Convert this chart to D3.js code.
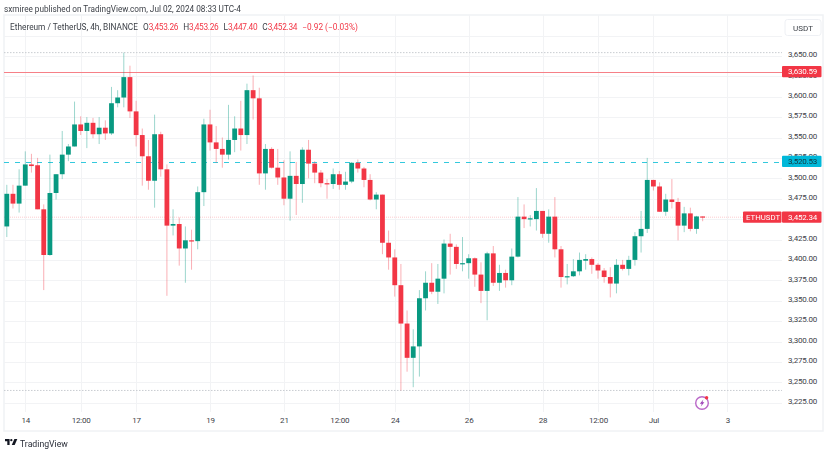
<!DOCTYPE html>
<html>
<head>
<meta charset="utf-8">
<script src="https://cdn.jsdelivr.net/npm/d3@7"></script>
<style>
html, body { margin: 0; padding: 0; background: #fff; }
svg { display: block; filter: blur(0.3px); }
text { font-family: Roboto, sans-serif; }
</style>
</head>
<body>
<div id="chart"></div>
<script>
var opens = [3441,3481,3469,3491,3517,3516,3462,3406,3482,3505,3529,3539,3566,3558,3568,3554,3562,3555,3592,3599,3624,3582,3553,3527,3497,3554,3511,3442,3444,3414,3424,3423,3483,3566,3544,3536,3529,3547,3561,3553,3608,3598,3506,3536,3513,3501,3475,3503,3493,3535,3518,3507,3494,3493,3505,3492,3496,3519,3512,3498,3474,3480,3421,3403,3369,3322,3280,3294,3353,3372,3361,3377,3420,3416,3395,3396,3402,3382,3362,3408,3372,3384,3375,3404,3453,3450,3450,3460,3432,3453,3413,3379,3380,3386,3399,3401,3394,3387,3379,3371,3394,3389,3400,3429,3438,3498,3490,3459,3474,3471,3442,3457,3438,3453.26];
var highs = [3492,3492,3511,3533,3530,3525,3468,3529,3505,3558,3542,3594,3576,3575,3574,3575,3571,3612,3608,3654,3638,3595,3561,3547,3578,3557,3517,3462,3452,3441,3437,3490,3573,3584,3564,3550,3590,3576,3595,3616,3626,3611,3542,3538,3536,3522,3533,3520,3538,3547,3521,3510,3499,3512,3509,3508,3520,3523,3514,3505,3483,3480,3436,3413,3395,3338,3315,3363,3386,3396,3395,3425,3432,3419,3428,3407,3403,3397,3410,3417,3394,3388,3414,3477,3468,3455,3488,3460,3462,3477,3417,3395,3401,3409,3407,3403,3396,3390,3391,3401,3400,3405,3434,3460,3525,3498,3495,3481,3499,3476,3465,3464,3454,3453.26];
var lows = [3428,3463,3458,3491,3507,3462,3363,3405,3474,3499,3521,3539,3553,3537,3549,3542,3547,3553,3587,3587,3574,3539,3491,3486,3464,3502,3356,3430,3393,3372,3388,3413,3466,3534,3519,3513,3523,3532,3534,3542,3572,3492,3486,3512,3492,3467,3448,3455,3470,3500,3494,3489,3475,3487,3486,3486,3494,3507,3489,3473,3462,3407,3388,3355,3240,3263,3244,3257,3338,3358,3346,3359,3382,3389,3386,3377,3367,3347,3326,3368,3362,3366,3369,3403,3439,3441,3436,3427,3421,3403,3366,3370,3379,3381,3388,3383,3377,3372,3354,3359,3387,3381,3393,3409,3433,3485,3459,3454,3463,3424,3434,3435,3432,3447.4];
var closes = [3481,3469,3491,3517,3515,3462,3406,3482,3505,3529,3539,3566,3558,3568,3554,3562,3555,3592,3599,3624,3582,3553,3527,3497,3554,3511,3442,3444,3414,3424,3423,3483,3566,3544,3536,3529,3547,3561,3553,3608,3598,3506,3536,3513,3501,3475,3503,3493,3535,3518,3507,3494,3493,3505,3492,3496,3519,3512,3498,3474,3480,3421,3403,3369,3322,3280,3294,3353,3372,3361,3377,3420,3416,3395,3396,3402,3382,3362,3408,3372,3384,3375,3404,3453,3450,3451,3460,3432,3453,3413,3379,3380,3386,3400,3401,3394,3387,3379,3371,3394,3389,3400,3429,3438,3498,3490,3459,3474,3471,3442,3457,3438,3453.26,3452.34];

var gridPrices = [3675,3650,3625,3600,3575,3550,3525,3500,3475,3450,3425,3400,3375,3350,3325,3300,3275,3250,3225];
var priceTicks = [3650,3625,3600,3575,3550,3525,3500,3475,3425,3400,3375,3350,3325,3300,3275,3250,3225];
var timeIndex = [3,12,21,33,45,54,63,75,87,96,105,117];
var timeLabels = ["14","12:00","17","19","21","12:00","24","26","28","12:00","Jul","3"];

var resistance = 3630.59;
var support = 3520.53;
var lastPrice = 3452.34;

var width = 830;
var height = 450;
var frameLeft = 4;
var frameTop = 15;
var frameRight = 823;
var frameBottom = 431;
var plotRight = 782;
var plotBottom = 412;

var green = "#089981";
var red = "#f23645";
var cyan = "#00bcd4";
var textColor = "#3d4148";
var fontSize = 8;
var tightSpacing = "-0.2px";

var svg = d3.select("#chart")
    .append("svg")
    .attr("width", width)
    .attr("height", height);

// the candle at index i, one candle every 4 hours
var x = d3.scaleLinear()
    .domain([0, 117])
    .range([6.8, 727.3]);

var y = d3.scaleLinear()
    .domain([3650, 3225])
    .range([55.9, 402.7]);

var price = d3.format(",.2f");

svg.append("rect")
    .attr("x", frameLeft)
    .attr("y", frameTop)
    .attr("width", frameRight - frameLeft)
    .attr("height", frameBottom - frameTop)
    .attr("fill", "#fff")
    .attr("stroke", "#f0f2f5")
    .attr("stroke-width", 1.5);

// grid lines
svg.append("g")
    .selectAll("line")
    .data(gridPrices)
    .enter()
    .append("line")
      .attr("x1", frameLeft)
      .attr("x2", plotRight)
      .attr("y1", function(d){ return Math.round(y(d)) + 0.5; })
      .attr("y2", function(d){ return Math.round(y(d)) + 0.5; })
      .attr("stroke", "#f2f3f5");

svg.append("g")
    .selectAll("line")
    .data(timeIndex)
    .enter()
    .append("line")
      .attr("x1", function(d){ return Math.round(x(d)) + 0.5; })
      .attr("x2", function(d){ return Math.round(x(d)) + 0.5; })
      .attr("y1", frameTop)
      .attr("y2", plotBottom)
      .attr("stroke", "#f2f3f5");

// highest and lowest of the range
svg.append("g")
    .selectAll("line")
    .data([d3.max(highs), d3.min(lows)])
    .enter()
    .append("line")
      .attr("x1", frameLeft)
      .attr("x2", plotRight)
      .attr("y1", function(d){ return y(d); })
      .attr("y2", function(d){ return y(d); })
      .attr("stroke", "#c9ccd1")
      .attr("stroke-dasharray", "1.5,1.5");

// level lines
svg.append("line")
    .attr("x1", frameLeft).attr("x2", plotRight)
    .attr("y1", Math.round(y(resistance)) + 0.5).attr("y2", Math.round(y(resistance)) + 0.5)
    .attr("stroke", "#f68087")
    .attr("stroke-width", 1);

svg.append("line")
    .attr("x1", frameLeft).attr("x2", plotRight)
    .attr("y1", Math.round(y(support)) + 0.5).attr("y2", Math.round(y(support)) + 0.5)
    .attr("stroke", cyan)
    .attr("stroke-opacity", 0.8)
    .attr("stroke-width", 1.2)
    .attr("stroke-dasharray", "5,6");

svg.append("line")
    .attr("x1", frameLeft).attr("x2", plotRight)
    .attr("y1", y(lastPrice)).attr("y2", y(lastPrice))
    .attr("stroke", red)
    .attr("stroke-opacity", 0.25)
    .attr("stroke-dasharray", "1,1");

// candles
var candle = svg.append("g")
    .selectAll("g")
    .data(opens)
    .enter()
    .append("g");

function colorOf(d, i) {
  return closes[i] >= opens[i] ? green : red;
}

candle.append("line")
    .attr("x1", function(d, i){ return x(i); })
    .attr("x2", function(d, i){ return x(i); })
    .attr("y1", function(d, i){ return y(highs[i]); })
    .attr("y2", function(d, i){ return y(lows[i]); })
    .attr("stroke", colorOf)
    .attr("stroke-opacity", 0.4);

candle.append("rect")
    .attr("x", function(d, i){ return x(i) - 2.4; })
    .attr("width", 4.8)
    .attr("y", function(d, i){ return y(Math.max(opens[i], closes[i])); })
    .attr("height", function(d, i){ return Math.max(1.2, Math.abs(y(opens[i]) - y(closes[i]))); })
    .attr("fill", colorOf);

// price axis
var yAxis = d3.axisRight(y)
    .tickValues(priceTicks)
    .tickSize(0)
    .tickPadding(6)
    .tickFormat(price);

var yG = svg.append("g")
    .attr("transform", "translate(" + plotRight + ",-1.7)")
    .call(yAxis);
yG.select(".domain").remove();
yG.selectAll("text")
    .attr("font-size", fontSize)
    .attr("font-family", "Roboto, sans-serif")
    .attr("fill", textColor)
    .style("letter-spacing", tightSpacing);

// time axis
var xAxis = d3.axisBottom(x)
    .tickValues(timeIndex)
    .tickSize(0)
    .tickPadding(5)
    .tickFormat(function(d, i){ return timeLabels[i]; });

var xG = svg.append("g")
    .attr("transform", "translate(0," + (plotBottom + 0.5) + ")")
    .call(xAxis);
xG.select(".domain").remove();
xG.selectAll("text")
    .attr("font-size", fontSize)
    .attr("font-family", "Roboto, sans-serif")
    .attr("fill", textColor)
    .style("letter-spacing", tightSpacing);

// price labels
function priceLabel(value, color, textFill) {
  var cy = y(value);
  svg.append("rect")
      .attr("x", plotRight)
      .attr("y", cy - 5.7)
      .attr("width", 39.5)
      .attr("height", 11.2)
      .attr("rx", 1)
      .attr("fill", color);
  svg.append("text")
      .attr("x", 788)
      .attr("y", cy + 2.7)
      .attr("font-size", fontSize)
      .attr("fill", textFill)
      .style("letter-spacing", tightSpacing)
      .text(price(value));
}

priceLabel(resistance, red, "#fff");
priceLabel(support, "#00b8d9", "#12343b");
priceLabel(lastPrice, red, "#fff");

svg.append("rect")
    .attr("x", 743)
    .attr("y", y(lastPrice) - 5.7)
    .attr("width", 38.5)
    .attr("height", 11.2)
    .attr("rx", 1)
    .attr("fill", red);
svg.append("text")
    .attr("x", 746)
    .attr("y", y(lastPrice) + 2.7)
    .attr("font-size", 7.8)
    .attr("fill", "#fff")
    .text("ETHUSDT");

// unit box
svg.append("rect")
    .attr("x", 785)
    .attr("y", 19.5)
    .attr("width", 36)
    .attr("height", 16)
    .attr("rx", 2.5)
    .attr("fill", "#fff")
    .attr("stroke", "#eef0f4");
svg.append("text")
    .attr("x", 803)
    .attr("y", 30.5)
    .attr("text-anchor", "middle")
    .attr("font-size", fontSize)
    .attr("fill", textColor)
    .text("USDT");

// header
svg.append("text")
    .attr("x", 4)
    .attr("y", 11.5)
    .attr("font-size", 8.2)
    .attr("fill", "#3d4148")
    .text("sxmiree published on TradingView.com, Jul 02, 2024 08:33 UTC-4");

var legendLabels = ["Ethereum / TetherUS, 4h, BINANCE", "O", "3,453.26", "H", "3,453.26", "L", "3,447.40", "C", "3,452.34", "\u22120.92 (\u22120.03%)"];
var legendGaps = [0, 5, 0, 5, 0, 5, 0, 5, 0, 5];

svg.append("text")
    .attr("x", 10)
    .attr("y", 29.5)
    .attr("font-size", 8.3)
    .selectAll("tspan")
    .data(legendLabels)
    .enter()
    .append("tspan")
      .attr("dx", function(d, i){ return legendGaps[i]; })
      .attr("fill", function(d, i){ return (i > 0 && i % 2 == 0) || i == 9 ? "#f23645" : "#3d4148"; })
      .style("letter-spacing", function(d, i){ return i > 0 && i % 2 == 0 ? "-0.3px" : null; })
      .text(function(d){ return d; });

// flash icon
var icon = svg.append("g").attr("transform", "translate(702,403)");
icon.append("circle")
    .attr("r", 6.3)
    .attr("fill", "#fff")
    .attr("stroke", "#ba68c8")
    .attr("stroke-width", 1.4);
icon.append("path")
    .attr("d", "M1.4,-3.6 L-2.2,0.8 L-0.2,0.8 L-1.2,3.6 L2.4,-0.8 L0.4,-0.8 Z")
    .attr("fill", "#9c3fb5");
icon.append("circle")
    .attr("cx", 4.6)
    .attr("cy", -5.2)
    .attr("r", 1.7)
    .attr("fill", "#f23645");

// logo
var logo = svg.append("g")
    .attr("transform", "translate(5,439) scale(0.82)")
    .attr("fill", "#131722");
logo.append("path").attr("d", "M0,0 H5.6 V7.4 H2.8 V2.7 H0 Z");
logo.append("circle").attr("cx", 7.7).attr("cy", 1.4).attr("r", 1.4);
logo.append("path").attr("d", "M11.4,0 H15 L11.8,7.4 H8.2 Z");
svg.append("text")
    .attr("x", 20)
    .attr("y", 447)
    .attr("font-size", 8.7)
    .attr("fill", "#2a2e39")
    .text("TradingView");
</script>
</body>
</html>
